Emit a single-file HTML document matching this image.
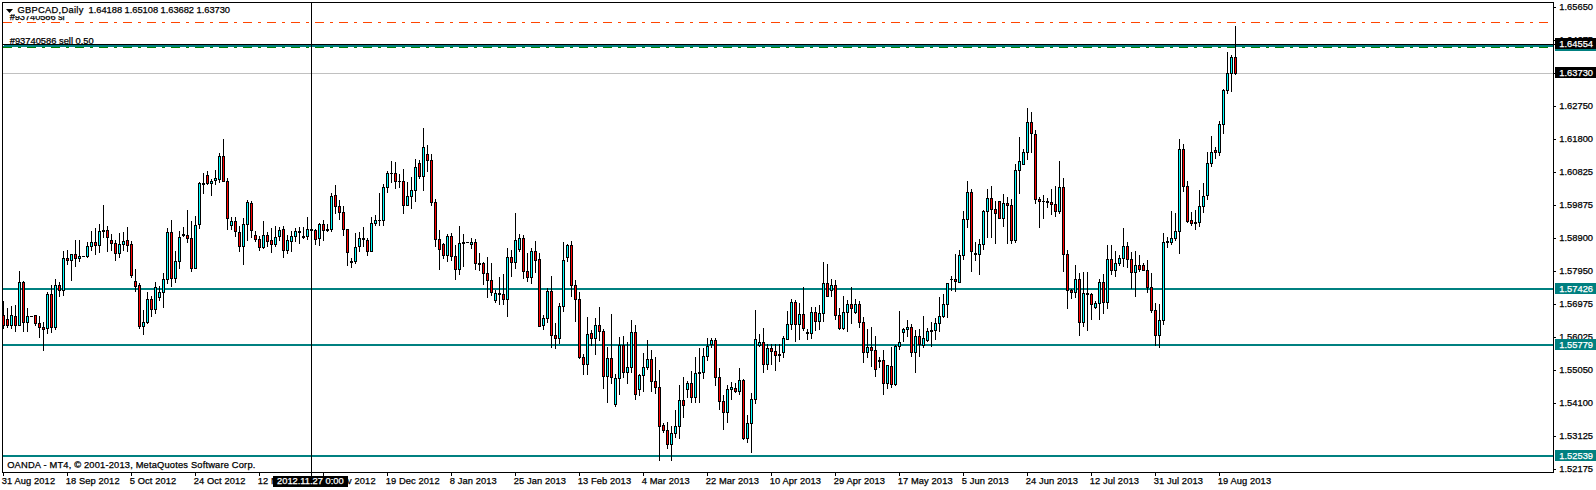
<!DOCTYPE html>
<html><head><meta charset="utf-8"><title>GBPCAD,Daily</title>
<style>
html,body{margin:0;padding:0;background:#fff;}
body{width:1596px;height:490px;position:relative;overflow:hidden;font-family:"Liberation Sans",sans-serif;font-size:9.33px;}
svg{position:absolute;left:0;top:0;}
.t{position:absolute;white-space:pre;line-height:12px;height:12px;-webkit-text-stroke:0.25px currentColor;}
</style></head><body>
<div class="t sell" style="left:9.70px;top:35.00px;color:#000;letter-spacing:0.000px;">#93740586 sell 0.50</div>
<svg width="1596" height="490" viewBox="0 0 1596 490" shape-rendering="crispEdges">
<rect x="3" y="73" width="1550" height="1" fill="#c0c0c0"/><rect x="3" y="45" width="1550" height="2" fill="#008080"/><rect x="3" y="288" width="1550" height="2" fill="#008080"/><rect x="3" y="344" width="1550" height="2" fill="#008080"/><rect x="3" y="455" width="1550" height="2" fill="#008080"/><rect x="3" y="44" width="1550" height="1" fill="#000"/><rect x="3" y="22" width="9" height="1" fill="#ff4500"/><rect x="18" y="22" width="3" height="1" fill="#ff4500"/><rect x="27" y="22" width="9" height="1" fill="#ff4500"/><rect x="42" y="22" width="3" height="1" fill="#ff4500"/><rect x="51" y="22" width="9" height="1" fill="#ff4500"/><rect x="66" y="22" width="3" height="1" fill="#ff4500"/><rect x="75" y="22" width="9" height="1" fill="#ff4500"/><rect x="90" y="22" width="3" height="1" fill="#ff4500"/><rect x="99" y="22" width="9" height="1" fill="#ff4500"/><rect x="114" y="22" width="3" height="1" fill="#ff4500"/><rect x="123" y="22" width="9" height="1" fill="#ff4500"/><rect x="138" y="22" width="3" height="1" fill="#ff4500"/><rect x="147" y="22" width="9" height="1" fill="#ff4500"/><rect x="162" y="22" width="3" height="1" fill="#ff4500"/><rect x="171" y="22" width="9" height="1" fill="#ff4500"/><rect x="186" y="22" width="3" height="1" fill="#ff4500"/><rect x="195" y="22" width="9" height="1" fill="#ff4500"/><rect x="210" y="22" width="3" height="1" fill="#ff4500"/><rect x="219" y="22" width="9" height="1" fill="#ff4500"/><rect x="234" y="22" width="3" height="1" fill="#ff4500"/><rect x="243" y="22" width="9" height="1" fill="#ff4500"/><rect x="258" y="22" width="3" height="1" fill="#ff4500"/><rect x="267" y="22" width="9" height="1" fill="#ff4500"/><rect x="282" y="22" width="3" height="1" fill="#ff4500"/><rect x="291" y="22" width="9" height="1" fill="#ff4500"/><rect x="306" y="22" width="3" height="1" fill="#ff4500"/><rect x="315" y="22" width="9" height="1" fill="#ff4500"/><rect x="330" y="22" width="3" height="1" fill="#ff4500"/><rect x="339" y="22" width="9" height="1" fill="#ff4500"/><rect x="354" y="22" width="3" height="1" fill="#ff4500"/><rect x="363" y="22" width="9" height="1" fill="#ff4500"/><rect x="378" y="22" width="3" height="1" fill="#ff4500"/><rect x="387" y="22" width="9" height="1" fill="#ff4500"/><rect x="402" y="22" width="3" height="1" fill="#ff4500"/><rect x="411" y="22" width="9" height="1" fill="#ff4500"/><rect x="426" y="22" width="3" height="1" fill="#ff4500"/><rect x="435" y="22" width="9" height="1" fill="#ff4500"/><rect x="450" y="22" width="3" height="1" fill="#ff4500"/><rect x="459" y="22" width="9" height="1" fill="#ff4500"/><rect x="474" y="22" width="3" height="1" fill="#ff4500"/><rect x="483" y="22" width="9" height="1" fill="#ff4500"/><rect x="498" y="22" width="3" height="1" fill="#ff4500"/><rect x="507" y="22" width="9" height="1" fill="#ff4500"/><rect x="522" y="22" width="3" height="1" fill="#ff4500"/><rect x="531" y="22" width="9" height="1" fill="#ff4500"/><rect x="546" y="22" width="3" height="1" fill="#ff4500"/><rect x="555" y="22" width="9" height="1" fill="#ff4500"/><rect x="570" y="22" width="3" height="1" fill="#ff4500"/><rect x="579" y="22" width="9" height="1" fill="#ff4500"/><rect x="594" y="22" width="3" height="1" fill="#ff4500"/><rect x="603" y="22" width="9" height="1" fill="#ff4500"/><rect x="618" y="22" width="3" height="1" fill="#ff4500"/><rect x="627" y="22" width="9" height="1" fill="#ff4500"/><rect x="642" y="22" width="3" height="1" fill="#ff4500"/><rect x="651" y="22" width="9" height="1" fill="#ff4500"/><rect x="666" y="22" width="3" height="1" fill="#ff4500"/><rect x="675" y="22" width="9" height="1" fill="#ff4500"/><rect x="690" y="22" width="3" height="1" fill="#ff4500"/><rect x="699" y="22" width="9" height="1" fill="#ff4500"/><rect x="714" y="22" width="3" height="1" fill="#ff4500"/><rect x="723" y="22" width="9" height="1" fill="#ff4500"/><rect x="738" y="22" width="3" height="1" fill="#ff4500"/><rect x="747" y="22" width="9" height="1" fill="#ff4500"/><rect x="762" y="22" width="3" height="1" fill="#ff4500"/><rect x="771" y="22" width="9" height="1" fill="#ff4500"/><rect x="786" y="22" width="3" height="1" fill="#ff4500"/><rect x="795" y="22" width="9" height="1" fill="#ff4500"/><rect x="810" y="22" width="3" height="1" fill="#ff4500"/><rect x="819" y="22" width="9" height="1" fill="#ff4500"/><rect x="834" y="22" width="3" height="1" fill="#ff4500"/><rect x="843" y="22" width="9" height="1" fill="#ff4500"/><rect x="858" y="22" width="3" height="1" fill="#ff4500"/><rect x="867" y="22" width="9" height="1" fill="#ff4500"/><rect x="882" y="22" width="3" height="1" fill="#ff4500"/><rect x="891" y="22" width="9" height="1" fill="#ff4500"/><rect x="906" y="22" width="3" height="1" fill="#ff4500"/><rect x="915" y="22" width="9" height="1" fill="#ff4500"/><rect x="930" y="22" width="3" height="1" fill="#ff4500"/><rect x="939" y="22" width="9" height="1" fill="#ff4500"/><rect x="954" y="22" width="3" height="1" fill="#ff4500"/><rect x="963" y="22" width="9" height="1" fill="#ff4500"/><rect x="978" y="22" width="3" height="1" fill="#ff4500"/><rect x="987" y="22" width="9" height="1" fill="#ff4500"/><rect x="1002" y="22" width="3" height="1" fill="#ff4500"/><rect x="1011" y="22" width="9" height="1" fill="#ff4500"/><rect x="1026" y="22" width="3" height="1" fill="#ff4500"/><rect x="1035" y="22" width="9" height="1" fill="#ff4500"/><rect x="1050" y="22" width="3" height="1" fill="#ff4500"/><rect x="1059" y="22" width="9" height="1" fill="#ff4500"/><rect x="1074" y="22" width="3" height="1" fill="#ff4500"/><rect x="1083" y="22" width="9" height="1" fill="#ff4500"/><rect x="1098" y="22" width="3" height="1" fill="#ff4500"/><rect x="1107" y="22" width="9" height="1" fill="#ff4500"/><rect x="1122" y="22" width="3" height="1" fill="#ff4500"/><rect x="1131" y="22" width="9" height="1" fill="#ff4500"/><rect x="1146" y="22" width="3" height="1" fill="#ff4500"/><rect x="1155" y="22" width="9" height="1" fill="#ff4500"/><rect x="1170" y="22" width="3" height="1" fill="#ff4500"/><rect x="1179" y="22" width="9" height="1" fill="#ff4500"/><rect x="1194" y="22" width="3" height="1" fill="#ff4500"/><rect x="1203" y="22" width="9" height="1" fill="#ff4500"/><rect x="1218" y="22" width="3" height="1" fill="#ff4500"/><rect x="1227" y="22" width="9" height="1" fill="#ff4500"/><rect x="1242" y="22" width="3" height="1" fill="#ff4500"/><rect x="1251" y="22" width="9" height="1" fill="#ff4500"/><rect x="1266" y="22" width="3" height="1" fill="#ff4500"/><rect x="1275" y="22" width="9" height="1" fill="#ff4500"/><rect x="1290" y="22" width="3" height="1" fill="#ff4500"/><rect x="1299" y="22" width="9" height="1" fill="#ff4500"/><rect x="1314" y="22" width="3" height="1" fill="#ff4500"/><rect x="1323" y="22" width="9" height="1" fill="#ff4500"/><rect x="1338" y="22" width="3" height="1" fill="#ff4500"/><rect x="1347" y="22" width="9" height="1" fill="#ff4500"/><rect x="1362" y="22" width="3" height="1" fill="#ff4500"/><rect x="1371" y="22" width="9" height="1" fill="#ff4500"/><rect x="1386" y="22" width="3" height="1" fill="#ff4500"/><rect x="1395" y="22" width="9" height="1" fill="#ff4500"/><rect x="1410" y="22" width="3" height="1" fill="#ff4500"/><rect x="1419" y="22" width="9" height="1" fill="#ff4500"/><rect x="1434" y="22" width="3" height="1" fill="#ff4500"/><rect x="1443" y="22" width="9" height="1" fill="#ff4500"/><rect x="1458" y="22" width="3" height="1" fill="#ff4500"/><rect x="1467" y="22" width="9" height="1" fill="#ff4500"/><rect x="1482" y="22" width="3" height="1" fill="#ff4500"/><rect x="1491" y="22" width="9" height="1" fill="#ff4500"/><rect x="1506" y="22" width="3" height="1" fill="#ff4500"/><rect x="1515" y="22" width="9" height="1" fill="#ff4500"/><rect x="1530" y="22" width="3" height="1" fill="#ff4500"/><rect x="1539" y="22" width="9" height="1" fill="#ff4500"/><rect x="3" y="47" width="9" height="1" fill="#008000"/><rect x="18" y="47" width="3" height="1" fill="#008000"/><rect x="27" y="47" width="9" height="1" fill="#008000"/><rect x="42" y="47" width="3" height="1" fill="#008000"/><rect x="51" y="47" width="9" height="1" fill="#008000"/><rect x="66" y="47" width="3" height="1" fill="#008000"/><rect x="75" y="47" width="9" height="1" fill="#008000"/><rect x="90" y="47" width="3" height="1" fill="#008000"/><rect x="99" y="47" width="9" height="1" fill="#008000"/><rect x="114" y="47" width="3" height="1" fill="#008000"/><rect x="123" y="47" width="9" height="1" fill="#008000"/><rect x="138" y="47" width="3" height="1" fill="#008000"/><rect x="147" y="47" width="9" height="1" fill="#008000"/><rect x="162" y="47" width="3" height="1" fill="#008000"/><rect x="171" y="47" width="9" height="1" fill="#008000"/><rect x="186" y="47" width="3" height="1" fill="#008000"/><rect x="195" y="47" width="9" height="1" fill="#008000"/><rect x="210" y="47" width="3" height="1" fill="#008000"/><rect x="219" y="47" width="9" height="1" fill="#008000"/><rect x="234" y="47" width="3" height="1" fill="#008000"/><rect x="243" y="47" width="9" height="1" fill="#008000"/><rect x="258" y="47" width="3" height="1" fill="#008000"/><rect x="267" y="47" width="9" height="1" fill="#008000"/><rect x="282" y="47" width="3" height="1" fill="#008000"/><rect x="291" y="47" width="9" height="1" fill="#008000"/><rect x="306" y="47" width="3" height="1" fill="#008000"/><rect x="315" y="47" width="9" height="1" fill="#008000"/><rect x="330" y="47" width="3" height="1" fill="#008000"/><rect x="339" y="47" width="9" height="1" fill="#008000"/><rect x="354" y="47" width="3" height="1" fill="#008000"/><rect x="363" y="47" width="9" height="1" fill="#008000"/><rect x="378" y="47" width="3" height="1" fill="#008000"/><rect x="387" y="47" width="9" height="1" fill="#008000"/><rect x="402" y="47" width="3" height="1" fill="#008000"/><rect x="411" y="47" width="9" height="1" fill="#008000"/><rect x="426" y="47" width="3" height="1" fill="#008000"/><rect x="435" y="47" width="9" height="1" fill="#008000"/><rect x="450" y="47" width="3" height="1" fill="#008000"/><rect x="459" y="47" width="9" height="1" fill="#008000"/><rect x="474" y="47" width="3" height="1" fill="#008000"/><rect x="483" y="47" width="9" height="1" fill="#008000"/><rect x="498" y="47" width="3" height="1" fill="#008000"/><rect x="507" y="47" width="9" height="1" fill="#008000"/><rect x="522" y="47" width="3" height="1" fill="#008000"/><rect x="531" y="47" width="9" height="1" fill="#008000"/><rect x="546" y="47" width="3" height="1" fill="#008000"/><rect x="555" y="47" width="9" height="1" fill="#008000"/><rect x="570" y="47" width="3" height="1" fill="#008000"/><rect x="579" y="47" width="9" height="1" fill="#008000"/><rect x="594" y="47" width="3" height="1" fill="#008000"/><rect x="603" y="47" width="9" height="1" fill="#008000"/><rect x="618" y="47" width="3" height="1" fill="#008000"/><rect x="627" y="47" width="9" height="1" fill="#008000"/><rect x="642" y="47" width="3" height="1" fill="#008000"/><rect x="651" y="47" width="9" height="1" fill="#008000"/><rect x="666" y="47" width="3" height="1" fill="#008000"/><rect x="675" y="47" width="9" height="1" fill="#008000"/><rect x="690" y="47" width="3" height="1" fill="#008000"/><rect x="699" y="47" width="9" height="1" fill="#008000"/><rect x="714" y="47" width="3" height="1" fill="#008000"/><rect x="723" y="47" width="9" height="1" fill="#008000"/><rect x="738" y="47" width="3" height="1" fill="#008000"/><rect x="747" y="47" width="9" height="1" fill="#008000"/><rect x="762" y="47" width="3" height="1" fill="#008000"/><rect x="771" y="47" width="9" height="1" fill="#008000"/><rect x="786" y="47" width="3" height="1" fill="#008000"/><rect x="795" y="47" width="9" height="1" fill="#008000"/><rect x="810" y="47" width="3" height="1" fill="#008000"/><rect x="819" y="47" width="9" height="1" fill="#008000"/><rect x="834" y="47" width="3" height="1" fill="#008000"/><rect x="843" y="47" width="9" height="1" fill="#008000"/><rect x="858" y="47" width="3" height="1" fill="#008000"/><rect x="867" y="47" width="9" height="1" fill="#008000"/><rect x="882" y="47" width="3" height="1" fill="#008000"/><rect x="891" y="47" width="9" height="1" fill="#008000"/><rect x="906" y="47" width="3" height="1" fill="#008000"/><rect x="915" y="47" width="9" height="1" fill="#008000"/><rect x="930" y="47" width="3" height="1" fill="#008000"/><rect x="939" y="47" width="9" height="1" fill="#008000"/><rect x="954" y="47" width="3" height="1" fill="#008000"/><rect x="963" y="47" width="9" height="1" fill="#008000"/><rect x="978" y="47" width="3" height="1" fill="#008000"/><rect x="987" y="47" width="9" height="1" fill="#008000"/><rect x="1002" y="47" width="3" height="1" fill="#008000"/><rect x="1011" y="47" width="9" height="1" fill="#008000"/><rect x="1026" y="47" width="3" height="1" fill="#008000"/><rect x="1035" y="47" width="9" height="1" fill="#008000"/><rect x="1050" y="47" width="3" height="1" fill="#008000"/><rect x="1059" y="47" width="9" height="1" fill="#008000"/><rect x="1074" y="47" width="3" height="1" fill="#008000"/><rect x="1083" y="47" width="9" height="1" fill="#008000"/><rect x="1098" y="47" width="3" height="1" fill="#008000"/><rect x="1107" y="47" width="9" height="1" fill="#008000"/><rect x="1122" y="47" width="3" height="1" fill="#008000"/><rect x="1131" y="47" width="9" height="1" fill="#008000"/><rect x="1146" y="47" width="3" height="1" fill="#008000"/><rect x="1155" y="47" width="9" height="1" fill="#008000"/><rect x="1170" y="47" width="3" height="1" fill="#008000"/><rect x="1179" y="47" width="9" height="1" fill="#008000"/><rect x="1194" y="47" width="3" height="1" fill="#008000"/><rect x="1203" y="47" width="9" height="1" fill="#008000"/><rect x="1218" y="47" width="3" height="1" fill="#008000"/><rect x="1227" y="47" width="9" height="1" fill="#008000"/><rect x="1242" y="47" width="3" height="1" fill="#008000"/><rect x="1251" y="47" width="9" height="1" fill="#008000"/><rect x="1266" y="47" width="3" height="1" fill="#008000"/><rect x="1275" y="47" width="9" height="1" fill="#008000"/><rect x="1290" y="47" width="3" height="1" fill="#008000"/><rect x="1299" y="47" width="9" height="1" fill="#008000"/><rect x="1314" y="47" width="3" height="1" fill="#008000"/><rect x="1323" y="47" width="9" height="1" fill="#008000"/><rect x="1338" y="47" width="3" height="1" fill="#008000"/><rect x="1347" y="47" width="9" height="1" fill="#008000"/><rect x="1362" y="47" width="3" height="1" fill="#008000"/><rect x="1371" y="47" width="9" height="1" fill="#008000"/><rect x="1386" y="47" width="3" height="1" fill="#008000"/><rect x="1395" y="47" width="9" height="1" fill="#008000"/><rect x="1410" y="47" width="3" height="1" fill="#008000"/><rect x="1419" y="47" width="9" height="1" fill="#008000"/><rect x="1434" y="47" width="3" height="1" fill="#008000"/><rect x="1443" y="47" width="9" height="1" fill="#008000"/><rect x="1458" y="47" width="3" height="1" fill="#008000"/><rect x="1467" y="47" width="9" height="1" fill="#008000"/><rect x="1482" y="47" width="3" height="1" fill="#008000"/><rect x="1491" y="47" width="9" height="1" fill="#008000"/><rect x="1506" y="47" width="3" height="1" fill="#008000"/><rect x="1515" y="47" width="9" height="1" fill="#008000"/><rect x="1530" y="47" width="3" height="1" fill="#008000"/><rect x="1539" y="47" width="9" height="1" fill="#008000"/><rect x="3" y="301" width="1" height="28" fill="#000"/><rect x="2" y="315" width="3" height="11" fill="#000"/><rect x="3" y="316" width="1" height="9" fill="#ff0000"/><rect x="7" y="308" width="1" height="20" fill="#000"/><rect x="6" y="319" width="3" height="7" fill="#000"/><rect x="7" y="320" width="1" height="5" fill="#ff0000"/><rect x="11" y="306" width="1" height="23" fill="#000"/><rect x="10" y="315" width="3" height="11" fill="#000"/><rect x="11" y="316" width="1" height="9" fill="#00ffff"/><rect x="15" y="305" width="1" height="27" fill="#000"/><rect x="14" y="316" width="3" height="10" fill="#000"/><rect x="15" y="317" width="1" height="8" fill="#ff0000"/><rect x="19" y="271" width="1" height="55" fill="#000"/><rect x="18" y="282" width="3" height="44" fill="#000"/><rect x="19" y="283" width="1" height="42" fill="#00ffff"/><rect x="23" y="281" width="1" height="51" fill="#000"/><rect x="22" y="282" width="3" height="41" fill="#000"/><rect x="23" y="283" width="1" height="39" fill="#ff0000"/><rect x="27" y="308" width="1" height="24" fill="#000"/><rect x="26" y="316" width="3" height="7" fill="#000"/><rect x="27" y="317" width="1" height="5" fill="#00ffff"/><rect x="31" y="316" width="1" height="1" fill="#000"/><rect x="30" y="316" width="3" height="1" fill="#000"/><rect x="35" y="315" width="1" height="11" fill="#000"/><rect x="34" y="315" width="3" height="9" fill="#000"/><rect x="35" y="316" width="1" height="7" fill="#ff0000"/><rect x="39" y="316" width="1" height="22" fill="#000"/><rect x="38" y="323" width="3" height="5" fill="#000"/><rect x="39" y="324" width="1" height="3" fill="#ff0000"/><rect x="43" y="322" width="1" height="29" fill="#000"/><rect x="42" y="327" width="3" height="3" fill="#000"/><rect x="43" y="328" width="1" height="1" fill="#ff0000"/><rect x="47" y="292" width="1" height="42" fill="#000"/><rect x="46" y="294" width="3" height="35" fill="#000"/><rect x="47" y="295" width="1" height="33" fill="#00ffff"/><rect x="51" y="285" width="1" height="48" fill="#000"/><rect x="50" y="294" width="3" height="34" fill="#000"/><rect x="51" y="295" width="1" height="32" fill="#ff0000"/><rect x="55" y="279" width="1" height="51" fill="#000"/><rect x="54" y="285" width="3" height="43" fill="#000"/><rect x="55" y="286" width="1" height="41" fill="#00ffff"/><rect x="59" y="282" width="1" height="15" fill="#000"/><rect x="58" y="285" width="3" height="6" fill="#000"/><rect x="59" y="286" width="1" height="4" fill="#ff0000"/><rect x="63" y="251" width="1" height="45" fill="#000"/><rect x="62" y="258" width="3" height="33" fill="#000"/><rect x="63" y="259" width="1" height="31" fill="#00ffff"/><rect x="67" y="250" width="1" height="15" fill="#000"/><rect x="66" y="258" width="3" height="3" fill="#000"/><rect x="67" y="259" width="1" height="1" fill="#ff0000"/><rect x="71" y="254" width="1" height="27" fill="#000"/><rect x="70" y="254" width="3" height="7" fill="#000"/><rect x="71" y="255" width="1" height="5" fill="#00ffff"/><rect x="75" y="240" width="1" height="27" fill="#000"/><rect x="74" y="254" width="3" height="5" fill="#000"/><rect x="75" y="255" width="1" height="3" fill="#ff0000"/><rect x="79" y="240" width="1" height="22" fill="#000"/><rect x="78" y="256" width="3" height="3" fill="#000"/><rect x="79" y="257" width="1" height="1" fill="#00ffff"/><rect x="83" y="256" width="1" height="1" fill="#000"/><rect x="82" y="256" width="3" height="1" fill="#000"/><rect x="87" y="242" width="1" height="16" fill="#000"/><rect x="86" y="246" width="3" height="11" fill="#000"/><rect x="87" y="247" width="1" height="9" fill="#00ffff"/><rect x="91" y="231" width="1" height="20" fill="#000"/><rect x="90" y="242" width="3" height="5" fill="#000"/><rect x="91" y="243" width="1" height="3" fill="#00ffff"/><rect x="95" y="228" width="1" height="27" fill="#000"/><rect x="94" y="242" width="3" height="4" fill="#000"/><rect x="95" y="243" width="1" height="2" fill="#ff0000"/><rect x="99" y="224" width="1" height="29" fill="#000"/><rect x="98" y="231" width="3" height="15" fill="#000"/><rect x="99" y="232" width="1" height="13" fill="#00ffff"/><rect x="103" y="205" width="1" height="33" fill="#000"/><rect x="102" y="230" width="3" height="2" fill="#000"/><rect x="107" y="226" width="1" height="26" fill="#000"/><rect x="106" y="230" width="3" height="8" fill="#000"/><rect x="107" y="231" width="1" height="6" fill="#ff0000"/><rect x="111" y="234" width="1" height="17" fill="#000"/><rect x="110" y="240" width="3" height="4" fill="#000"/><rect x="111" y="241" width="1" height="2" fill="#ff0000"/><rect x="115" y="240" width="1" height="21" fill="#000"/><rect x="114" y="243" width="3" height="11" fill="#000"/><rect x="115" y="244" width="1" height="9" fill="#ff0000"/><rect x="119" y="233" width="1" height="25" fill="#000"/><rect x="118" y="244" width="3" height="10" fill="#000"/><rect x="119" y="245" width="1" height="8" fill="#00ffff"/><rect x="123" y="232" width="1" height="19" fill="#000"/><rect x="122" y="241" width="3" height="4" fill="#000"/><rect x="123" y="242" width="1" height="2" fill="#00ffff"/><rect x="127" y="227" width="1" height="25" fill="#000"/><rect x="126" y="240" width="3" height="6" fill="#000"/><rect x="127" y="241" width="1" height="4" fill="#ff0000"/><rect x="131" y="241" width="1" height="37" fill="#000"/><rect x="130" y="244" width="3" height="32" fill="#000"/><rect x="131" y="245" width="1" height="30" fill="#ff0000"/><rect x="135" y="269" width="1" height="23" fill="#000"/><rect x="134" y="281" width="3" height="6" fill="#000"/><rect x="135" y="282" width="1" height="4" fill="#ff0000"/><rect x="139" y="283" width="1" height="46" fill="#000"/><rect x="138" y="285" width="3" height="42" fill="#000"/><rect x="139" y="286" width="1" height="40" fill="#ff0000"/><rect x="143" y="310" width="1" height="25" fill="#000"/><rect x="142" y="322" width="3" height="5" fill="#000"/><rect x="143" y="323" width="1" height="3" fill="#00ffff"/><rect x="147" y="292" width="1" height="32" fill="#000"/><rect x="146" y="299" width="3" height="24" fill="#000"/><rect x="147" y="300" width="1" height="22" fill="#00ffff"/><rect x="151" y="296" width="1" height="21" fill="#000"/><rect x="150" y="299" width="3" height="11" fill="#000"/><rect x="151" y="300" width="1" height="9" fill="#ff0000"/><rect x="155" y="282" width="1" height="32" fill="#000"/><rect x="154" y="287" width="3" height="23" fill="#000"/><rect x="155" y="288" width="1" height="21" fill="#00ffff"/><rect x="159" y="286" width="1" height="15" fill="#000"/><rect x="158" y="292" width="3" height="6" fill="#000"/><rect x="159" y="293" width="1" height="4" fill="#00ffff"/><rect x="163" y="273" width="1" height="35" fill="#000"/><rect x="162" y="279" width="3" height="14" fill="#000"/><rect x="163" y="280" width="1" height="12" fill="#00ffff"/><rect x="167" y="228" width="1" height="56" fill="#000"/><rect x="166" y="232" width="3" height="48" fill="#000"/><rect x="167" y="233" width="1" height="46" fill="#00ffff"/><rect x="171" y="220" width="1" height="67" fill="#000"/><rect x="170" y="232" width="3" height="47" fill="#000"/><rect x="171" y="233" width="1" height="45" fill="#ff0000"/><rect x="175" y="251" width="1" height="32" fill="#000"/><rect x="174" y="261" width="3" height="18" fill="#000"/><rect x="175" y="262" width="1" height="16" fill="#00ffff"/><rect x="179" y="231" width="1" height="38" fill="#000"/><rect x="178" y="237" width="3" height="25" fill="#000"/><rect x="179" y="238" width="1" height="23" fill="#00ffff"/><rect x="183" y="227" width="1" height="10" fill="#000"/><rect x="182" y="234" width="3" height="2" fill="#000"/><rect x="187" y="210" width="1" height="33" fill="#000"/><rect x="186" y="235" width="3" height="4" fill="#000"/><rect x="187" y="236" width="1" height="2" fill="#ff0000"/><rect x="191" y="221" width="1" height="51" fill="#000"/><rect x="190" y="238" width="3" height="31" fill="#000"/><rect x="191" y="239" width="1" height="29" fill="#ff0000"/><rect x="195" y="216" width="1" height="53" fill="#000"/><rect x="194" y="225" width="3" height="44" fill="#000"/><rect x="195" y="226" width="1" height="42" fill="#00ffff"/><rect x="199" y="182" width="1" height="47" fill="#000"/><rect x="198" y="183" width="3" height="42" fill="#000"/><rect x="199" y="184" width="1" height="40" fill="#00ffff"/><rect x="203" y="173" width="1" height="21" fill="#000"/><rect x="202" y="183" width="3" height="2" fill="#000"/><rect x="207" y="171" width="1" height="14" fill="#000"/><rect x="206" y="175" width="3" height="9" fill="#000"/><rect x="207" y="176" width="1" height="7" fill="#ff0000"/><rect x="211" y="179" width="1" height="17" fill="#000"/><rect x="210" y="181" width="3" height="3" fill="#000"/><rect x="211" y="182" width="1" height="1" fill="#00ffff"/><rect x="215" y="170" width="1" height="15" fill="#000"/><rect x="214" y="178" width="3" height="3" fill="#000"/><rect x="215" y="179" width="1" height="1" fill="#00ffff"/><rect x="219" y="153" width="1" height="30" fill="#000"/><rect x="218" y="156" width="3" height="24" fill="#000"/><rect x="219" y="157" width="1" height="22" fill="#00ffff"/><rect x="223" y="139" width="1" height="43" fill="#000"/><rect x="222" y="156" width="3" height="26" fill="#000"/><rect x="223" y="157" width="1" height="24" fill="#ff0000"/><rect x="227" y="178" width="1" height="52" fill="#000"/><rect x="226" y="181" width="3" height="38" fill="#000"/><rect x="227" y="182" width="1" height="36" fill="#ff0000"/><rect x="231" y="217" width="1" height="13" fill="#000"/><rect x="230" y="221" width="3" height="5" fill="#000"/><rect x="231" y="222" width="1" height="3" fill="#00ffff"/><rect x="235" y="217" width="1" height="20" fill="#000"/><rect x="234" y="221" width="3" height="11" fill="#000"/><rect x="235" y="222" width="1" height="9" fill="#ff0000"/><rect x="239" y="226" width="1" height="26" fill="#000"/><rect x="238" y="232" width="3" height="15" fill="#000"/><rect x="239" y="233" width="1" height="13" fill="#ff0000"/><rect x="243" y="218" width="1" height="47" fill="#000"/><rect x="242" y="224" width="3" height="23" fill="#000"/><rect x="243" y="225" width="1" height="21" fill="#00ffff"/><rect x="247" y="200" width="1" height="41" fill="#000"/><rect x="246" y="202" width="3" height="23" fill="#000"/><rect x="247" y="203" width="1" height="21" fill="#00ffff"/><rect x="251" y="201" width="1" height="37" fill="#000"/><rect x="250" y="203" width="3" height="28" fill="#000"/><rect x="251" y="204" width="1" height="26" fill="#ff0000"/><rect x="255" y="231" width="1" height="11" fill="#000"/><rect x="254" y="235" width="3" height="5" fill="#000"/><rect x="255" y="236" width="1" height="3" fill="#ff0000"/><rect x="259" y="236" width="1" height="15" fill="#000"/><rect x="258" y="239" width="3" height="9" fill="#000"/><rect x="259" y="240" width="1" height="7" fill="#ff0000"/><rect x="263" y="221" width="1" height="28" fill="#000"/><rect x="262" y="235" width="3" height="13" fill="#000"/><rect x="263" y="236" width="1" height="11" fill="#00ffff"/><rect x="267" y="232" width="1" height="15" fill="#000"/><rect x="266" y="235" width="3" height="7" fill="#000"/><rect x="267" y="236" width="1" height="5" fill="#ff0000"/><rect x="271" y="228" width="1" height="25" fill="#000"/><rect x="270" y="240" width="3" height="5" fill="#000"/><rect x="271" y="241" width="1" height="3" fill="#ff0000"/><rect x="275" y="226" width="1" height="21" fill="#000"/><rect x="274" y="237" width="3" height="8" fill="#000"/><rect x="275" y="238" width="1" height="6" fill="#00ffff"/><rect x="279" y="227" width="1" height="14" fill="#000"/><rect x="278" y="230" width="3" height="7" fill="#000"/><rect x="279" y="231" width="1" height="5" fill="#00ffff"/><rect x="283" y="226" width="1" height="32" fill="#000"/><rect x="282" y="229" width="3" height="22" fill="#000"/><rect x="283" y="230" width="1" height="20" fill="#ff0000"/><rect x="287" y="235" width="1" height="19" fill="#000"/><rect x="286" y="240" width="3" height="11" fill="#000"/><rect x="287" y="241" width="1" height="9" fill="#00ffff"/><rect x="291" y="231" width="1" height="21" fill="#000"/><rect x="290" y="236" width="3" height="6" fill="#000"/><rect x="291" y="237" width="1" height="4" fill="#00ffff"/><rect x="295" y="228" width="1" height="14" fill="#000"/><rect x="294" y="231" width="3" height="6" fill="#000"/><rect x="295" y="232" width="1" height="4" fill="#00ffff"/><rect x="299" y="227" width="1" height="17" fill="#000"/><rect x="298" y="231" width="3" height="2" fill="#000"/><rect x="303" y="227" width="1" height="12" fill="#000"/><rect x="302" y="236" width="3" height="2" fill="#000"/><rect x="307" y="217" width="1" height="23" fill="#000"/><rect x="306" y="229" width="3" height="8" fill="#000"/><rect x="307" y="230" width="1" height="6" fill="#00ffff"/><rect x="315" y="229" width="1" height="16" fill="#000"/><rect x="314" y="230" width="3" height="10" fill="#000"/><rect x="315" y="231" width="1" height="8" fill="#ff0000"/><rect x="319" y="223" width="1" height="23" fill="#000"/><rect x="318" y="224" width="3" height="15" fill="#000"/><rect x="319" y="225" width="1" height="13" fill="#00ffff"/><rect x="323" y="220" width="1" height="21" fill="#000"/><rect x="322" y="224" width="3" height="7" fill="#000"/><rect x="323" y="225" width="1" height="5" fill="#ff0000"/><rect x="327" y="224" width="1" height="8" fill="#000"/><rect x="326" y="229" width="3" height="2" fill="#000"/><rect x="331" y="193" width="1" height="39" fill="#000"/><rect x="330" y="196" width="3" height="34" fill="#000"/><rect x="331" y="197" width="1" height="32" fill="#00ffff"/><rect x="335" y="185" width="1" height="29" fill="#000"/><rect x="334" y="195" width="3" height="12" fill="#000"/><rect x="335" y="196" width="1" height="10" fill="#ff0000"/><rect x="339" y="200" width="1" height="20" fill="#000"/><rect x="338" y="206" width="3" height="7" fill="#000"/><rect x="339" y="207" width="1" height="5" fill="#ff0000"/><rect x="343" y="206" width="1" height="30" fill="#000"/><rect x="342" y="212" width="3" height="18" fill="#000"/><rect x="343" y="213" width="1" height="16" fill="#ff0000"/><rect x="347" y="229" width="1" height="37" fill="#000"/><rect x="346" y="229" width="3" height="24" fill="#000"/><rect x="347" y="230" width="1" height="22" fill="#ff0000"/><rect x="351" y="258" width="1" height="10" fill="#000"/><rect x="350" y="261" width="3" height="2" fill="#000"/><rect x="355" y="233" width="1" height="31" fill="#000"/><rect x="354" y="247" width="3" height="15" fill="#000"/><rect x="355" y="248" width="1" height="13" fill="#00ffff"/><rect x="359" y="232" width="1" height="20" fill="#000"/><rect x="358" y="238" width="3" height="9" fill="#000"/><rect x="359" y="239" width="1" height="7" fill="#00ffff"/><rect x="363" y="227" width="1" height="20" fill="#000"/><rect x="362" y="238" width="3" height="2" fill="#000"/><rect x="367" y="238" width="1" height="18" fill="#000"/><rect x="366" y="240" width="3" height="12" fill="#000"/><rect x="367" y="241" width="1" height="10" fill="#ff0000"/><rect x="371" y="217" width="1" height="35" fill="#000"/><rect x="370" y="223" width="3" height="29" fill="#000"/><rect x="371" y="224" width="1" height="27" fill="#00ffff"/><rect x="375" y="215" width="1" height="11" fill="#000"/><rect x="374" y="220" width="3" height="4" fill="#000"/><rect x="375" y="221" width="1" height="2" fill="#00ffff"/><rect x="379" y="193" width="1" height="33" fill="#000"/><rect x="378" y="220" width="3" height="1" fill="#000"/><rect x="383" y="184" width="1" height="42" fill="#000"/><rect x="382" y="187" width="3" height="34" fill="#000"/><rect x="383" y="188" width="1" height="32" fill="#00ffff"/><rect x="387" y="171" width="1" height="22" fill="#000"/><rect x="386" y="173" width="3" height="15" fill="#000"/><rect x="387" y="174" width="1" height="13" fill="#00ffff"/><rect x="391" y="161" width="1" height="22" fill="#000"/><rect x="390" y="173" width="3" height="1" fill="#000"/><rect x="395" y="162" width="1" height="27" fill="#000"/><rect x="394" y="173" width="3" height="9" fill="#000"/><rect x="395" y="174" width="1" height="7" fill="#ff0000"/><rect x="399" y="174" width="1" height="14" fill="#000"/><rect x="398" y="181" width="3" height="1" fill="#000"/><rect x="403" y="169" width="1" height="45" fill="#000"/><rect x="402" y="181" width="3" height="25" fill="#000"/><rect x="403" y="182" width="1" height="23" fill="#ff0000"/><rect x="407" y="182" width="1" height="24" fill="#000"/><rect x="406" y="196" width="3" height="10" fill="#000"/><rect x="407" y="197" width="1" height="8" fill="#00ffff"/><rect x="411" y="177" width="1" height="32" fill="#000"/><rect x="410" y="190" width="3" height="7" fill="#000"/><rect x="411" y="191" width="1" height="5" fill="#00ffff"/><rect x="415" y="159" width="1" height="43" fill="#000"/><rect x="414" y="167" width="3" height="24" fill="#000"/><rect x="415" y="168" width="1" height="22" fill="#00ffff"/><rect x="419" y="160" width="1" height="19" fill="#000"/><rect x="418" y="163" width="3" height="14" fill="#000"/><rect x="419" y="164" width="1" height="12" fill="#ff0000"/><rect x="423" y="128" width="1" height="63" fill="#000"/><rect x="422" y="147" width="3" height="30" fill="#000"/><rect x="423" y="148" width="1" height="28" fill="#00ffff"/><rect x="427" y="145" width="1" height="27" fill="#000"/><rect x="426" y="154" width="3" height="7" fill="#000"/><rect x="427" y="155" width="1" height="5" fill="#ff0000"/><rect x="431" y="154" width="1" height="52" fill="#000"/><rect x="430" y="160" width="3" height="43" fill="#000"/><rect x="431" y="161" width="1" height="41" fill="#ff0000"/><rect x="435" y="199" width="1" height="48" fill="#000"/><rect x="434" y="202" width="3" height="38" fill="#000"/><rect x="435" y="203" width="1" height="36" fill="#ff0000"/><rect x="439" y="230" width="1" height="40" fill="#000"/><rect x="438" y="239" width="3" height="11" fill="#000"/><rect x="439" y="240" width="1" height="9" fill="#ff0000"/><rect x="443" y="243" width="1" height="16" fill="#000"/><rect x="442" y="244" width="3" height="12" fill="#000"/><rect x="443" y="245" width="1" height="10" fill="#ff0000"/><rect x="447" y="234" width="1" height="28" fill="#000"/><rect x="446" y="236" width="3" height="20" fill="#000"/><rect x="447" y="237" width="1" height="18" fill="#00ffff"/><rect x="451" y="233" width="1" height="28" fill="#000"/><rect x="450" y="236" width="3" height="21" fill="#000"/><rect x="451" y="237" width="1" height="19" fill="#ff0000"/><rect x="455" y="245" width="1" height="35" fill="#000"/><rect x="454" y="256" width="3" height="14" fill="#000"/><rect x="455" y="257" width="1" height="12" fill="#ff0000"/><rect x="459" y="226" width="1" height="49" fill="#000"/><rect x="458" y="243" width="3" height="27" fill="#000"/><rect x="459" y="244" width="1" height="25" fill="#00ffff"/><rect x="463" y="234" width="1" height="33" fill="#000"/><rect x="462" y="242" width="3" height="2" fill="#000"/><rect x="467" y="242" width="1" height="1" fill="#000"/><rect x="466" y="242" width="3" height="1" fill="#000"/><rect x="471" y="238" width="1" height="11" fill="#000"/><rect x="470" y="242" width="3" height="3" fill="#000"/><rect x="471" y="243" width="1" height="1" fill="#00ffff"/><rect x="475" y="239" width="1" height="31" fill="#000"/><rect x="474" y="242" width="3" height="22" fill="#000"/><rect x="475" y="243" width="1" height="20" fill="#ff0000"/><rect x="479" y="253" width="1" height="18" fill="#000"/><rect x="478" y="263" width="3" height="2" fill="#000"/><rect x="483" y="262" width="1" height="23" fill="#000"/><rect x="482" y="263" width="3" height="11" fill="#000"/><rect x="483" y="264" width="1" height="9" fill="#ff0000"/><rect x="487" y="257" width="1" height="41" fill="#000"/><rect x="486" y="273" width="3" height="8" fill="#000"/><rect x="487" y="274" width="1" height="6" fill="#ff0000"/><rect x="491" y="263" width="1" height="33" fill="#000"/><rect x="490" y="280" width="3" height="13" fill="#000"/><rect x="491" y="281" width="1" height="11" fill="#ff0000"/><rect x="495" y="290" width="1" height="13" fill="#000"/><rect x="494" y="293" width="3" height="8" fill="#000"/><rect x="495" y="294" width="1" height="6" fill="#00ffff"/><rect x="499" y="277" width="1" height="28" fill="#000"/><rect x="498" y="293" width="3" height="2" fill="#000"/><rect x="503" y="274" width="1" height="31" fill="#000"/><rect x="502" y="294" width="3" height="6" fill="#000"/><rect x="503" y="295" width="1" height="4" fill="#ff0000"/><rect x="507" y="248" width="1" height="69" fill="#000"/><rect x="506" y="257" width="3" height="43" fill="#000"/><rect x="507" y="258" width="1" height="41" fill="#00ffff"/><rect x="511" y="250" width="1" height="27" fill="#000"/><rect x="510" y="257" width="3" height="6" fill="#000"/><rect x="511" y="258" width="1" height="4" fill="#ff0000"/><rect x="515" y="213" width="1" height="56" fill="#000"/><rect x="514" y="240" width="3" height="23" fill="#000"/><rect x="515" y="241" width="1" height="21" fill="#00ffff"/><rect x="519" y="234" width="1" height="18" fill="#000"/><rect x="518" y="238" width="3" height="12" fill="#000"/><rect x="519" y="239" width="1" height="10" fill="#00ffff"/><rect x="523" y="235" width="1" height="44" fill="#000"/><rect x="522" y="238" width="3" height="34" fill="#000"/><rect x="523" y="239" width="1" height="32" fill="#ff0000"/><rect x="527" y="253" width="1" height="29" fill="#000"/><rect x="526" y="271" width="3" height="7" fill="#000"/><rect x="527" y="272" width="1" height="5" fill="#ff0000"/><rect x="531" y="248" width="1" height="36" fill="#000"/><rect x="530" y="251" width="3" height="27" fill="#000"/><rect x="531" y="252" width="1" height="25" fill="#00ffff"/><rect x="535" y="241" width="1" height="32" fill="#000"/><rect x="534" y="251" width="3" height="10" fill="#000"/><rect x="535" y="252" width="1" height="8" fill="#ff0000"/><rect x="539" y="253" width="1" height="74" fill="#000"/><rect x="538" y="259" width="3" height="68" fill="#000"/><rect x="539" y="260" width="1" height="66" fill="#ff0000"/><rect x="543" y="315" width="1" height="15" fill="#000"/><rect x="542" y="318" width="3" height="8" fill="#000"/><rect x="543" y="319" width="1" height="6" fill="#00ffff"/><rect x="547" y="288" width="1" height="35" fill="#000"/><rect x="546" y="291" width="3" height="28" fill="#000"/><rect x="547" y="292" width="1" height="26" fill="#00ffff"/><rect x="551" y="276" width="1" height="72" fill="#000"/><rect x="550" y="291" width="3" height="45" fill="#000"/><rect x="551" y="292" width="1" height="43" fill="#ff0000"/><rect x="555" y="323" width="1" height="26" fill="#000"/><rect x="554" y="335" width="3" height="4" fill="#000"/><rect x="555" y="336" width="1" height="2" fill="#ff0000"/><rect x="559" y="303" width="1" height="41" fill="#000"/><rect x="558" y="306" width="3" height="33" fill="#000"/><rect x="559" y="307" width="1" height="31" fill="#00ffff"/><rect x="563" y="242" width="1" height="70" fill="#000"/><rect x="562" y="260" width="3" height="47" fill="#000"/><rect x="563" y="261" width="1" height="45" fill="#00ffff"/><rect x="567" y="244" width="1" height="18" fill="#000"/><rect x="566" y="245" width="3" height="13" fill="#000"/><rect x="567" y="246" width="1" height="11" fill="#00ffff"/><rect x="571" y="241" width="1" height="56" fill="#000"/><rect x="570" y="245" width="3" height="41" fill="#000"/><rect x="571" y="246" width="1" height="39" fill="#ff0000"/><rect x="575" y="280" width="1" height="42" fill="#000"/><rect x="574" y="285" width="3" height="15" fill="#000"/><rect x="575" y="286" width="1" height="13" fill="#ff0000"/><rect x="579" y="292" width="1" height="67" fill="#000"/><rect x="578" y="299" width="3" height="59" fill="#000"/><rect x="579" y="300" width="1" height="57" fill="#ff0000"/><rect x="583" y="354" width="1" height="21" fill="#000"/><rect x="582" y="357" width="3" height="8" fill="#000"/><rect x="583" y="358" width="1" height="6" fill="#ff0000"/><rect x="587" y="317" width="1" height="58" fill="#000"/><rect x="586" y="334" width="3" height="31" fill="#000"/><rect x="587" y="335" width="1" height="29" fill="#00ffff"/><rect x="591" y="330" width="1" height="16" fill="#000"/><rect x="590" y="333" width="3" height="6" fill="#000"/><rect x="591" y="334" width="1" height="4" fill="#ff0000"/><rect x="595" y="318" width="1" height="37" fill="#000"/><rect x="594" y="325" width="3" height="14" fill="#000"/><rect x="595" y="326" width="1" height="12" fill="#00ffff"/><rect x="599" y="307" width="1" height="34" fill="#000"/><rect x="598" y="325" width="3" height="7" fill="#000"/><rect x="599" y="326" width="1" height="5" fill="#ff0000"/><rect x="603" y="329" width="1" height="60" fill="#000"/><rect x="602" y="331" width="3" height="46" fill="#000"/><rect x="603" y="332" width="1" height="44" fill="#ff0000"/><rect x="607" y="347" width="1" height="56" fill="#000"/><rect x="606" y="358" width="3" height="19" fill="#000"/><rect x="607" y="359" width="1" height="17" fill="#00ffff"/><rect x="611" y="314" width="1" height="70" fill="#000"/><rect x="610" y="358" width="3" height="20" fill="#000"/><rect x="611" y="359" width="1" height="18" fill="#ff0000"/><rect x="615" y="374" width="1" height="33" fill="#000"/><rect x="614" y="378" width="3" height="27" fill="#000"/><rect x="615" y="379" width="1" height="25" fill="#00ffff"/><rect x="619" y="337" width="1" height="58" fill="#000"/><rect x="618" y="345" width="3" height="34" fill="#000"/><rect x="619" y="346" width="1" height="32" fill="#00ffff"/><rect x="623" y="336" width="1" height="42" fill="#000"/><rect x="622" y="345" width="3" height="28" fill="#000"/><rect x="623" y="346" width="1" height="26" fill="#ff0000"/><rect x="627" y="342" width="1" height="42" fill="#000"/><rect x="626" y="367" width="3" height="6" fill="#000"/><rect x="627" y="368" width="1" height="4" fill="#00ffff"/><rect x="631" y="320" width="1" height="53" fill="#000"/><rect x="630" y="332" width="3" height="36" fill="#000"/><rect x="631" y="333" width="1" height="34" fill="#00ffff"/><rect x="635" y="325" width="1" height="75" fill="#000"/><rect x="634" y="332" width="3" height="63" fill="#000"/><rect x="635" y="333" width="1" height="61" fill="#ff0000"/><rect x="639" y="374" width="1" height="22" fill="#000"/><rect x="638" y="375" width="3" height="15" fill="#000"/><rect x="639" y="376" width="1" height="13" fill="#00ffff"/><rect x="643" y="353" width="1" height="39" fill="#000"/><rect x="642" y="367" width="3" height="9" fill="#000"/><rect x="643" y="368" width="1" height="7" fill="#00ffff"/><rect x="647" y="340" width="1" height="30" fill="#000"/><rect x="646" y="359" width="3" height="9" fill="#000"/><rect x="647" y="360" width="1" height="7" fill="#00ffff"/><rect x="651" y="350" width="1" height="42" fill="#000"/><rect x="650" y="359" width="3" height="23" fill="#000"/><rect x="651" y="360" width="1" height="21" fill="#ff0000"/><rect x="655" y="357" width="1" height="37" fill="#000"/><rect x="654" y="381" width="3" height="7" fill="#000"/><rect x="655" y="382" width="1" height="5" fill="#ff0000"/><rect x="659" y="370" width="1" height="91" fill="#000"/><rect x="658" y="387" width="3" height="40" fill="#000"/><rect x="659" y="388" width="1" height="38" fill="#ff0000"/><rect x="663" y="423" width="1" height="10" fill="#000"/><rect x="662" y="425" width="3" height="6" fill="#000"/><rect x="663" y="426" width="1" height="4" fill="#ff0000"/><rect x="667" y="422" width="1" height="27" fill="#000"/><rect x="666" y="430" width="3" height="15" fill="#000"/><rect x="667" y="431" width="1" height="13" fill="#ff0000"/><rect x="671" y="426" width="1" height="35" fill="#000"/><rect x="670" y="433" width="3" height="12" fill="#000"/><rect x="671" y="434" width="1" height="10" fill="#00ffff"/><rect x="675" y="410" width="1" height="28" fill="#000"/><rect x="674" y="426" width="3" height="8" fill="#000"/><rect x="675" y="427" width="1" height="6" fill="#00ffff"/><rect x="679" y="385" width="1" height="54" fill="#000"/><rect x="678" y="400" width="3" height="27" fill="#000"/><rect x="679" y="401" width="1" height="25" fill="#00ffff"/><rect x="683" y="377" width="1" height="41" fill="#000"/><rect x="682" y="400" width="3" height="6" fill="#000"/><rect x="683" y="401" width="1" height="4" fill="#ff0000"/><rect x="687" y="381" width="1" height="17" fill="#000"/><rect x="686" y="383" width="3" height="7" fill="#000"/><rect x="687" y="384" width="1" height="5" fill="#00ffff"/><rect x="691" y="371" width="1" height="32" fill="#000"/><rect x="690" y="383" width="3" height="15" fill="#000"/><rect x="691" y="384" width="1" height="13" fill="#ff0000"/><rect x="695" y="357" width="1" height="46" fill="#000"/><rect x="694" y="373" width="3" height="25" fill="#000"/><rect x="695" y="374" width="1" height="23" fill="#00ffff"/><rect x="699" y="348" width="1" height="55" fill="#000"/><rect x="698" y="372" width="3" height="2" fill="#000"/><rect x="703" y="348" width="1" height="31" fill="#000"/><rect x="702" y="356" width="3" height="17" fill="#000"/><rect x="703" y="357" width="1" height="15" fill="#00ffff"/><rect x="707" y="338" width="1" height="23" fill="#000"/><rect x="706" y="346" width="3" height="11" fill="#000"/><rect x="707" y="347" width="1" height="9" fill="#00ffff"/><rect x="711" y="338" width="1" height="10" fill="#000"/><rect x="710" y="340" width="3" height="5" fill="#000"/><rect x="711" y="341" width="1" height="3" fill="#00ffff"/><rect x="715" y="338" width="1" height="48" fill="#000"/><rect x="714" y="340" width="3" height="38" fill="#000"/><rect x="715" y="341" width="1" height="36" fill="#ff0000"/><rect x="719" y="368" width="1" height="42" fill="#000"/><rect x="718" y="377" width="3" height="25" fill="#000"/><rect x="719" y="378" width="1" height="23" fill="#ff0000"/><rect x="723" y="395" width="1" height="35" fill="#000"/><rect x="722" y="401" width="3" height="12" fill="#000"/><rect x="723" y="402" width="1" height="10" fill="#ff0000"/><rect x="727" y="385" width="1" height="38" fill="#000"/><rect x="726" y="389" width="3" height="24" fill="#000"/><rect x="727" y="390" width="1" height="22" fill="#00ffff"/><rect x="731" y="382" width="1" height="18" fill="#000"/><rect x="730" y="387" width="3" height="3" fill="#000"/><rect x="731" y="388" width="1" height="1" fill="#00ffff"/><rect x="735" y="383" width="1" height="10" fill="#000"/><rect x="734" y="388" width="3" height="4" fill="#000"/><rect x="735" y="389" width="1" height="2" fill="#ff0000"/><rect x="739" y="368" width="1" height="27" fill="#000"/><rect x="738" y="380" width="3" height="12" fill="#000"/><rect x="739" y="381" width="1" height="10" fill="#00ffff"/><rect x="743" y="379" width="1" height="61" fill="#000"/><rect x="742" y="380" width="3" height="59" fill="#000"/><rect x="743" y="381" width="1" height="57" fill="#ff0000"/><rect x="747" y="415" width="1" height="28" fill="#000"/><rect x="746" y="423" width="3" height="16" fill="#000"/><rect x="747" y="424" width="1" height="14" fill="#00ffff"/><rect x="751" y="393" width="1" height="60" fill="#000"/><rect x="750" y="399" width="3" height="25" fill="#000"/><rect x="751" y="400" width="1" height="23" fill="#00ffff"/><rect x="755" y="310" width="1" height="94" fill="#000"/><rect x="754" y="339" width="3" height="61" fill="#000"/><rect x="755" y="340" width="1" height="59" fill="#00ffff"/><rect x="759" y="334" width="1" height="13" fill="#000"/><rect x="758" y="342" width="3" height="4" fill="#000"/><rect x="759" y="343" width="1" height="2" fill="#00ffff"/><rect x="763" y="328" width="1" height="45" fill="#000"/><rect x="762" y="342" width="3" height="23" fill="#000"/><rect x="763" y="343" width="1" height="21" fill="#ff0000"/><rect x="767" y="344" width="1" height="26" fill="#000"/><rect x="766" y="348" width="3" height="17" fill="#000"/><rect x="767" y="349" width="1" height="15" fill="#00ffff"/><rect x="771" y="344" width="1" height="21" fill="#000"/><rect x="770" y="348" width="3" height="4" fill="#000"/><rect x="771" y="349" width="1" height="2" fill="#ff0000"/><rect x="775" y="344" width="1" height="27" fill="#000"/><rect x="774" y="351" width="3" height="5" fill="#000"/><rect x="775" y="352" width="1" height="3" fill="#ff0000"/><rect x="779" y="344" width="1" height="18" fill="#000"/><rect x="778" y="354" width="3" height="2" fill="#000"/><rect x="783" y="336" width="1" height="22" fill="#000"/><rect x="782" y="338" width="3" height="15" fill="#000"/><rect x="783" y="339" width="1" height="13" fill="#00ffff"/><rect x="787" y="311" width="1" height="29" fill="#000"/><rect x="786" y="324" width="3" height="16" fill="#000"/><rect x="787" y="325" width="1" height="14" fill="#00ffff"/><rect x="791" y="299" width="1" height="31" fill="#000"/><rect x="790" y="302" width="3" height="23" fill="#000"/><rect x="791" y="303" width="1" height="21" fill="#00ffff"/><rect x="795" y="300" width="1" height="42" fill="#000"/><rect x="794" y="302" width="3" height="23" fill="#000"/><rect x="795" y="303" width="1" height="21" fill="#ff0000"/><rect x="799" y="303" width="1" height="37" fill="#000"/><rect x="798" y="314" width="3" height="11" fill="#000"/><rect x="799" y="315" width="1" height="9" fill="#00ffff"/><rect x="803" y="287" width="1" height="44" fill="#000"/><rect x="802" y="314" width="3" height="15" fill="#000"/><rect x="803" y="315" width="1" height="13" fill="#ff0000"/><rect x="807" y="329" width="1" height="11" fill="#000"/><rect x="806" y="332" width="3" height="2" fill="#000"/><rect x="811" y="307" width="1" height="32" fill="#000"/><rect x="810" y="312" width="3" height="22" fill="#000"/><rect x="811" y="313" width="1" height="20" fill="#00ffff"/><rect x="815" y="307" width="1" height="24" fill="#000"/><rect x="814" y="312" width="3" height="10" fill="#000"/><rect x="815" y="313" width="1" height="8" fill="#ff0000"/><rect x="819" y="305" width="1" height="25" fill="#000"/><rect x="818" y="313" width="3" height="9" fill="#000"/><rect x="819" y="314" width="1" height="7" fill="#00ffff"/><rect x="823" y="262" width="1" height="60" fill="#000"/><rect x="822" y="283" width="3" height="31" fill="#000"/><rect x="823" y="284" width="1" height="29" fill="#00ffff"/><rect x="827" y="264" width="1" height="33" fill="#000"/><rect x="826" y="283" width="3" height="14" fill="#000"/><rect x="827" y="284" width="1" height="12" fill="#ff0000"/><rect x="831" y="279" width="1" height="18" fill="#000"/><rect x="830" y="285" width="3" height="6" fill="#000"/><rect x="831" y="286" width="1" height="4" fill="#00ffff"/><rect x="835" y="280" width="1" height="40" fill="#000"/><rect x="834" y="285" width="3" height="31" fill="#000"/><rect x="835" y="286" width="1" height="29" fill="#ff0000"/><rect x="839" y="308" width="1" height="22" fill="#000"/><rect x="838" y="315" width="3" height="14" fill="#000"/><rect x="839" y="316" width="1" height="12" fill="#ff0000"/><rect x="843" y="296" width="1" height="34" fill="#000"/><rect x="842" y="312" width="3" height="17" fill="#000"/><rect x="843" y="313" width="1" height="15" fill="#00ffff"/><rect x="847" y="300" width="1" height="32" fill="#000"/><rect x="846" y="304" width="3" height="9" fill="#000"/><rect x="847" y="305" width="1" height="7" fill="#00ffff"/><rect x="851" y="287" width="1" height="37" fill="#000"/><rect x="850" y="304" width="3" height="5" fill="#000"/><rect x="851" y="305" width="1" height="3" fill="#ff0000"/><rect x="855" y="299" width="1" height="15" fill="#000"/><rect x="854" y="304" width="3" height="9" fill="#000"/><rect x="855" y="305" width="1" height="7" fill="#00ffff"/><rect x="859" y="301" width="1" height="27" fill="#000"/><rect x="858" y="304" width="3" height="19" fill="#000"/><rect x="859" y="305" width="1" height="17" fill="#ff0000"/><rect x="863" y="317" width="1" height="46" fill="#000"/><rect x="862" y="322" width="3" height="31" fill="#000"/><rect x="863" y="323" width="1" height="29" fill="#ff0000"/><rect x="867" y="329" width="1" height="29" fill="#000"/><rect x="866" y="347" width="3" height="6" fill="#000"/><rect x="867" y="348" width="1" height="4" fill="#00ffff"/><rect x="871" y="327" width="1" height="40" fill="#000"/><rect x="870" y="347" width="3" height="4" fill="#000"/><rect x="871" y="348" width="1" height="2" fill="#ff0000"/><rect x="875" y="336" width="1" height="41" fill="#000"/><rect x="874" y="350" width="3" height="20" fill="#000"/><rect x="875" y="351" width="1" height="18" fill="#ff0000"/><rect x="879" y="357" width="1" height="11" fill="#000"/><rect x="878" y="360" width="3" height="2" fill="#000"/><rect x="883" y="350" width="1" height="45" fill="#000"/><rect x="882" y="360" width="3" height="24" fill="#000"/><rect x="883" y="361" width="1" height="22" fill="#ff0000"/><rect x="887" y="365" width="1" height="24" fill="#000"/><rect x="886" y="365" width="3" height="19" fill="#000"/><rect x="887" y="366" width="1" height="17" fill="#00ffff"/><rect x="891" y="347" width="1" height="41" fill="#000"/><rect x="890" y="366" width="3" height="19" fill="#000"/><rect x="891" y="367" width="1" height="17" fill="#ff0000"/><rect x="895" y="345" width="1" height="41" fill="#000"/><rect x="894" y="346" width="3" height="39" fill="#000"/><rect x="895" y="347" width="1" height="37" fill="#00ffff"/><rect x="899" y="311" width="1" height="39" fill="#000"/><rect x="898" y="342" width="3" height="5" fill="#000"/><rect x="899" y="343" width="1" height="3" fill="#00ffff"/><rect x="903" y="328" width="1" height="14" fill="#000"/><rect x="902" y="329" width="3" height="4" fill="#000"/><rect x="903" y="330" width="1" height="2" fill="#00ffff"/><rect x="907" y="320" width="1" height="17" fill="#000"/><rect x="906" y="327" width="3" height="3" fill="#000"/><rect x="907" y="328" width="1" height="1" fill="#00ffff"/><rect x="911" y="324" width="1" height="33" fill="#000"/><rect x="910" y="327" width="3" height="26" fill="#000"/><rect x="911" y="328" width="1" height="24" fill="#ff0000"/><rect x="915" y="330" width="1" height="43" fill="#000"/><rect x="914" y="336" width="3" height="17" fill="#000"/><rect x="915" y="337" width="1" height="15" fill="#00ffff"/><rect x="919" y="329" width="1" height="28" fill="#000"/><rect x="918" y="336" width="3" height="9" fill="#000"/><rect x="919" y="337" width="1" height="7" fill="#ff0000"/><rect x="923" y="316" width="1" height="32" fill="#000"/><rect x="922" y="338" width="3" height="8" fill="#000"/><rect x="923" y="339" width="1" height="6" fill="#00ffff"/><rect x="927" y="328" width="1" height="14" fill="#000"/><rect x="926" y="331" width="3" height="10" fill="#000"/><rect x="927" y="332" width="1" height="8" fill="#00ffff"/><rect x="931" y="322" width="1" height="25" fill="#000"/><rect x="930" y="330" width="3" height="2" fill="#000"/><rect x="935" y="318" width="1" height="22" fill="#000"/><rect x="934" y="323" width="3" height="8" fill="#000"/><rect x="935" y="324" width="1" height="6" fill="#00ffff"/><rect x="939" y="297" width="1" height="35" fill="#000"/><rect x="938" y="316" width="3" height="8" fill="#000"/><rect x="939" y="317" width="1" height="6" fill="#00ffff"/><rect x="943" y="294" width="1" height="24" fill="#000"/><rect x="942" y="304" width="3" height="13" fill="#000"/><rect x="943" y="305" width="1" height="11" fill="#00ffff"/><rect x="947" y="283" width="1" height="35" fill="#000"/><rect x="946" y="283" width="3" height="22" fill="#000"/><rect x="947" y="284" width="1" height="20" fill="#00ffff"/><rect x="951" y="276" width="1" height="15" fill="#000"/><rect x="950" y="279" width="3" height="1" fill="#000"/><rect x="955" y="254" width="1" height="38" fill="#000"/><rect x="954" y="279" width="3" height="3" fill="#000"/><rect x="955" y="280" width="1" height="1" fill="#ff0000"/><rect x="959" y="250" width="1" height="33" fill="#000"/><rect x="958" y="255" width="3" height="28" fill="#000"/><rect x="959" y="256" width="1" height="26" fill="#00ffff"/><rect x="963" y="211" width="1" height="49" fill="#000"/><rect x="962" y="219" width="3" height="37" fill="#000"/><rect x="963" y="220" width="1" height="35" fill="#00ffff"/><rect x="967" y="181" width="1" height="47" fill="#000"/><rect x="966" y="192" width="3" height="28" fill="#000"/><rect x="967" y="193" width="1" height="26" fill="#00ffff"/><rect x="971" y="189" width="1" height="83" fill="#000"/><rect x="970" y="192" width="3" height="60" fill="#000"/><rect x="971" y="193" width="1" height="58" fill="#ff0000"/><rect x="975" y="242" width="1" height="19" fill="#000"/><rect x="974" y="253" width="3" height="2" fill="#000"/><rect x="979" y="239" width="1" height="36" fill="#000"/><rect x="978" y="244" width="3" height="11" fill="#000"/><rect x="979" y="245" width="1" height="9" fill="#00ffff"/><rect x="983" y="210" width="1" height="40" fill="#000"/><rect x="982" y="211" width="3" height="34" fill="#000"/><rect x="983" y="212" width="1" height="32" fill="#00ffff"/><rect x="987" y="189" width="1" height="49" fill="#000"/><rect x="986" y="198" width="3" height="14" fill="#000"/><rect x="987" y="199" width="1" height="12" fill="#00ffff"/><rect x="991" y="186" width="1" height="52" fill="#000"/><rect x="990" y="198" width="3" height="12" fill="#000"/><rect x="991" y="199" width="1" height="10" fill="#ff0000"/><rect x="995" y="201" width="1" height="43" fill="#000"/><rect x="994" y="209" width="3" height="5" fill="#000"/><rect x="995" y="210" width="1" height="3" fill="#ff0000"/><rect x="999" y="201" width="1" height="18" fill="#000"/><rect x="998" y="201" width="3" height="18" fill="#000"/><rect x="999" y="202" width="1" height="16" fill="#ff0000"/><rect x="1003" y="194" width="1" height="33" fill="#000"/><rect x="1002" y="203" width="3" height="16" fill="#000"/><rect x="1003" y="204" width="1" height="14" fill="#00ffff"/><rect x="1007" y="197" width="1" height="47" fill="#000"/><rect x="1006" y="203" width="3" height="3" fill="#000"/><rect x="1007" y="204" width="1" height="1" fill="#ff0000"/><rect x="1011" y="199" width="1" height="45" fill="#000"/><rect x="1010" y="205" width="3" height="36" fill="#000"/><rect x="1011" y="206" width="1" height="34" fill="#ff0000"/><rect x="1015" y="164" width="1" height="79" fill="#000"/><rect x="1014" y="170" width="3" height="71" fill="#000"/><rect x="1015" y="171" width="1" height="69" fill="#00ffff"/><rect x="1019" y="137" width="1" height="57" fill="#000"/><rect x="1018" y="161" width="3" height="10" fill="#000"/><rect x="1019" y="162" width="1" height="8" fill="#00ffff"/><rect x="1023" y="149" width="1" height="16" fill="#000"/><rect x="1022" y="152" width="3" height="13" fill="#000"/><rect x="1023" y="153" width="1" height="11" fill="#00ffff"/><rect x="1027" y="108" width="1" height="52" fill="#000"/><rect x="1026" y="122" width="3" height="31" fill="#000"/><rect x="1027" y="123" width="1" height="29" fill="#00ffff"/><rect x="1031" y="112" width="1" height="41" fill="#000"/><rect x="1030" y="122" width="3" height="12" fill="#000"/><rect x="1031" y="123" width="1" height="10" fill="#ff0000"/><rect x="1035" y="130" width="1" height="74" fill="#000"/><rect x="1034" y="134" width="3" height="66" fill="#000"/><rect x="1035" y="135" width="1" height="64" fill="#ff0000"/><rect x="1039" y="197" width="1" height="31" fill="#000"/><rect x="1038" y="199" width="3" height="3" fill="#000"/><rect x="1039" y="200" width="1" height="1" fill="#ff0000"/><rect x="1043" y="195" width="1" height="24" fill="#000"/><rect x="1042" y="201" width="3" height="1" fill="#000"/><rect x="1047" y="198" width="1" height="10" fill="#000"/><rect x="1046" y="201" width="3" height="2" fill="#000"/><rect x="1051" y="189" width="1" height="26" fill="#000"/><rect x="1050" y="202" width="3" height="3" fill="#000"/><rect x="1051" y="203" width="1" height="1" fill="#ff0000"/><rect x="1055" y="186" width="1" height="31" fill="#000"/><rect x="1054" y="204" width="3" height="8" fill="#000"/><rect x="1055" y="205" width="1" height="6" fill="#ff0000"/><rect x="1059" y="161" width="1" height="53" fill="#000"/><rect x="1058" y="187" width="3" height="25" fill="#000"/><rect x="1059" y="188" width="1" height="23" fill="#00ffff"/><rect x="1063" y="178" width="1" height="94" fill="#000"/><rect x="1062" y="187" width="3" height="68" fill="#000"/><rect x="1063" y="188" width="1" height="66" fill="#ff0000"/><rect x="1067" y="250" width="1" height="59" fill="#000"/><rect x="1066" y="254" width="3" height="37" fill="#000"/><rect x="1067" y="255" width="1" height="35" fill="#ff0000"/><rect x="1071" y="289" width="1" height="10" fill="#000"/><rect x="1070" y="290" width="3" height="3" fill="#000"/><rect x="1071" y="291" width="1" height="1" fill="#ff0000"/><rect x="1075" y="265" width="1" height="33" fill="#000"/><rect x="1074" y="279" width="3" height="14" fill="#000"/><rect x="1075" y="280" width="1" height="12" fill="#00ffff"/><rect x="1079" y="273" width="1" height="63" fill="#000"/><rect x="1078" y="279" width="3" height="44" fill="#000"/><rect x="1079" y="280" width="1" height="42" fill="#ff0000"/><rect x="1083" y="272" width="1" height="55" fill="#000"/><rect x="1082" y="293" width="3" height="30" fill="#000"/><rect x="1083" y="294" width="1" height="28" fill="#00ffff"/><rect x="1087" y="272" width="1" height="59" fill="#000"/><rect x="1086" y="293" width="3" height="2" fill="#000"/><rect x="1091" y="293" width="1" height="27" fill="#000"/><rect x="1090" y="294" width="3" height="11" fill="#000"/><rect x="1091" y="295" width="1" height="9" fill="#ff0000"/><rect x="1095" y="301" width="1" height="8" fill="#000"/><rect x="1094" y="303" width="3" height="5" fill="#000"/><rect x="1095" y="304" width="1" height="3" fill="#00ffff"/><rect x="1099" y="279" width="1" height="41" fill="#000"/><rect x="1098" y="282" width="3" height="22" fill="#000"/><rect x="1099" y="283" width="1" height="20" fill="#00ffff"/><rect x="1103" y="274" width="1" height="40" fill="#000"/><rect x="1102" y="282" width="3" height="21" fill="#000"/><rect x="1103" y="283" width="1" height="19" fill="#ff0000"/><rect x="1107" y="245" width="1" height="64" fill="#000"/><rect x="1106" y="259" width="3" height="44" fill="#000"/><rect x="1107" y="260" width="1" height="42" fill="#00ffff"/><rect x="1111" y="245" width="1" height="30" fill="#000"/><rect x="1110" y="259" width="3" height="12" fill="#000"/><rect x="1111" y="260" width="1" height="10" fill="#ff0000"/><rect x="1115" y="251" width="1" height="26" fill="#000"/><rect x="1114" y="263" width="3" height="8" fill="#000"/><rect x="1115" y="264" width="1" height="6" fill="#00ffff"/><rect x="1119" y="255" width="1" height="11" fill="#000"/><rect x="1118" y="258" width="3" height="6" fill="#000"/><rect x="1119" y="259" width="1" height="4" fill="#00ffff"/><rect x="1123" y="228" width="1" height="39" fill="#000"/><rect x="1122" y="246" width="3" height="13" fill="#000"/><rect x="1123" y="247" width="1" height="11" fill="#00ffff"/><rect x="1127" y="242" width="1" height="26" fill="#000"/><rect x="1126" y="246" width="3" height="14" fill="#000"/><rect x="1127" y="247" width="1" height="12" fill="#ff0000"/><rect x="1131" y="252" width="1" height="37" fill="#000"/><rect x="1130" y="259" width="3" height="14" fill="#000"/><rect x="1131" y="260" width="1" height="12" fill="#ff0000"/><rect x="1135" y="251" width="1" height="46" fill="#000"/><rect x="1134" y="265" width="3" height="8" fill="#000"/><rect x="1135" y="266" width="1" height="6" fill="#00ffff"/><rect x="1139" y="255" width="1" height="17" fill="#000"/><rect x="1138" y="265" width="3" height="5" fill="#000"/><rect x="1139" y="266" width="1" height="3" fill="#ff0000"/><rect x="1143" y="263" width="1" height="8" fill="#000"/><rect x="1142" y="265" width="3" height="6" fill="#000"/><rect x="1143" y="266" width="1" height="4" fill="#ff0000"/><rect x="1147" y="260" width="1" height="33" fill="#000"/><rect x="1146" y="270" width="3" height="18" fill="#000"/><rect x="1147" y="271" width="1" height="16" fill="#ff0000"/><rect x="1151" y="273" width="1" height="40" fill="#000"/><rect x="1150" y="287" width="3" height="24" fill="#000"/><rect x="1151" y="288" width="1" height="22" fill="#ff0000"/><rect x="1155" y="303" width="1" height="43" fill="#000"/><rect x="1154" y="310" width="3" height="26" fill="#000"/><rect x="1155" y="311" width="1" height="24" fill="#ff0000"/><rect x="1159" y="304" width="1" height="44" fill="#000"/><rect x="1158" y="320" width="3" height="16" fill="#000"/><rect x="1159" y="321" width="1" height="14" fill="#00ffff"/><rect x="1163" y="233" width="1" height="92" fill="#000"/><rect x="1162" y="242" width="3" height="79" fill="#000"/><rect x="1163" y="243" width="1" height="77" fill="#00ffff"/><rect x="1167" y="237" width="1" height="11" fill="#000"/><rect x="1166" y="241" width="3" height="2" fill="#000"/><rect x="1171" y="211" width="1" height="34" fill="#000"/><rect x="1170" y="238" width="3" height="5" fill="#000"/><rect x="1171" y="239" width="1" height="3" fill="#00ffff"/><rect x="1175" y="213" width="1" height="28" fill="#000"/><rect x="1174" y="231" width="3" height="8" fill="#000"/><rect x="1175" y="232" width="1" height="6" fill="#00ffff"/><rect x="1179" y="139" width="1" height="115" fill="#000"/><rect x="1178" y="149" width="3" height="83" fill="#000"/><rect x="1179" y="150" width="1" height="81" fill="#00ffff"/><rect x="1183" y="144" width="1" height="48" fill="#000"/><rect x="1182" y="149" width="3" height="38" fill="#000"/><rect x="1183" y="150" width="1" height="36" fill="#ff0000"/><rect x="1187" y="181" width="1" height="42" fill="#000"/><rect x="1186" y="186" width="3" height="36" fill="#000"/><rect x="1187" y="187" width="1" height="34" fill="#ff0000"/><rect x="1191" y="212" width="1" height="14" fill="#000"/><rect x="1190" y="220" width="3" height="4" fill="#000"/><rect x="1191" y="221" width="1" height="2" fill="#ff0000"/><rect x="1195" y="210" width="1" height="20" fill="#000"/><rect x="1194" y="222" width="3" height="2" fill="#000"/><rect x="1199" y="190" width="1" height="37" fill="#000"/><rect x="1198" y="206" width="3" height="17" fill="#000"/><rect x="1199" y="207" width="1" height="15" fill="#00ffff"/><rect x="1203" y="183" width="1" height="30" fill="#000"/><rect x="1202" y="196" width="3" height="11" fill="#000"/><rect x="1203" y="197" width="1" height="9" fill="#00ffff"/><rect x="1207" y="152" width="1" height="48" fill="#000"/><rect x="1206" y="163" width="3" height="33" fill="#000"/><rect x="1207" y="164" width="1" height="31" fill="#00ffff"/><rect x="1211" y="136" width="1" height="31" fill="#000"/><rect x="1210" y="152" width="3" height="12" fill="#000"/><rect x="1211" y="153" width="1" height="10" fill="#00ffff"/><rect x="1215" y="147" width="1" height="12" fill="#000"/><rect x="1214" y="150" width="3" height="3" fill="#000"/><rect x="1215" y="151" width="1" height="1" fill="#ff0000"/><rect x="1219" y="121" width="1" height="35" fill="#000"/><rect x="1218" y="124" width="3" height="29" fill="#000"/><rect x="1219" y="125" width="1" height="27" fill="#00ffff"/><rect x="1223" y="89" width="1" height="45" fill="#000"/><rect x="1222" y="90" width="3" height="35" fill="#000"/><rect x="1223" y="91" width="1" height="33" fill="#00ffff"/><rect x="1227" y="52" width="1" height="42" fill="#000"/><rect x="1226" y="73" width="3" height="18" fill="#000"/><rect x="1227" y="74" width="1" height="16" fill="#00ffff"/><rect x="1231" y="55" width="1" height="37" fill="#000"/><rect x="1230" y="57" width="3" height="17" fill="#000"/><rect x="1231" y="58" width="1" height="15" fill="#00ffff"/><rect x="1235" y="26" width="1" height="49" fill="#000"/><rect x="1234" y="57" width="3" height="17" fill="#000"/><rect x="1235" y="58" width="1" height="15" fill="#ff0000"/><rect x="310" y="229" width="3" height="2" fill="#000"/><rect x="3" y="45" width="1" height="1" fill="#fff"/><rect x="311" y="3" width="1" height="473" fill="#000"/><rect x="2" y="2" width="1552" height="1" fill="#000"/><rect x="2" y="2" width="1" height="471" fill="#000"/><rect x="1553" y="2" width="1" height="471" fill="#000"/><rect x="2" y="472" width="1552" height="1" fill="#000"/><rect x="3" y="473" width="1" height="3" fill="#000"/><rect x="67" y="473" width="1" height="3" fill="#000"/><rect x="131" y="473" width="1" height="3" fill="#000"/><rect x="195" y="473" width="1" height="3" fill="#000"/><rect x="259" y="473" width="1" height="3" fill="#000"/><rect x="323" y="473" width="1" height="3" fill="#000"/><rect x="387" y="473" width="1" height="3" fill="#000"/><rect x="451" y="473" width="1" height="3" fill="#000"/><rect x="515" y="473" width="1" height="3" fill="#000"/><rect x="579" y="473" width="1" height="3" fill="#000"/><rect x="643" y="473" width="1" height="3" fill="#000"/><rect x="707" y="473" width="1" height="3" fill="#000"/><rect x="771" y="473" width="1" height="3" fill="#000"/><rect x="835" y="473" width="1" height="3" fill="#000"/><rect x="899" y="473" width="1" height="3" fill="#000"/><rect x="963" y="473" width="1" height="3" fill="#000"/><rect x="1027" y="473" width="1" height="3" fill="#000"/><rect x="1091" y="473" width="1" height="3" fill="#000"/><rect x="1155" y="473" width="1" height="3" fill="#000"/><rect x="1219" y="473" width="1" height="3" fill="#000"/><rect x="1554" y="7" width="2" height="1" fill="#000"/><rect x="1554" y="40" width="2" height="1" fill="#000"/><rect x="1554" y="73" width="2" height="1" fill="#000"/><rect x="1554" y="106" width="2" height="1" fill="#000"/><rect x="1554" y="139" width="2" height="1" fill="#000"/><rect x="1554" y="172" width="2" height="1" fill="#000"/><rect x="1554" y="205" width="2" height="1" fill="#000"/><rect x="1554" y="238" width="2" height="1" fill="#000"/><rect x="1554" y="271" width="2" height="1" fill="#000"/><rect x="1554" y="304" width="2" height="1" fill="#000"/><rect x="1554" y="337" width="2" height="1" fill="#000"/><rect x="1554" y="370" width="2" height="1" fill="#000"/><rect x="1554" y="403" width="2" height="1" fill="#000"/><rect x="1554" y="436" width="2" height="1" fill="#000"/><rect x="1554" y="469" width="2" height="1" fill="#000"/><rect x="1555" y="40" width="41" height="11" fill="#008080"/><rect x="1555" y="38" width="41" height="11" fill="#000"/><rect x="1554" y="44" width="1" height="1" fill="#000"/><rect x="1555" y="67" width="41" height="11" fill="#000"/><rect x="1554" y="73" width="1" height="1" fill="#000"/><rect x="1555" y="283" width="41" height="11" fill="#008080"/><rect x="1555" y="339" width="41" height="11" fill="#008080"/><rect x="1555" y="450" width="41" height="11" fill="#008080"/><rect x="273" y="476" width="75" height="11" fill="#000"/><path d="M6 9h7l-3.5 4z" fill="#000" shape-rendering="auto"/>
</svg>
<div class="t sl" style="left:9.70px;top:11.00px;color:#000;letter-spacing:-0.100px;">#93740586 sl</div><div style="position:absolute;left:15px;top:3px;width:218px;height:13px;background:#fff"></div><div class="t title" style="left:17.50px;top:4.00px;color:#000;letter-spacing:0.280px;">GBPCAD,Daily</div><div class="t nums" style="left:88.60px;top:4.00px;color:#000;letter-spacing:-0.040px;">1.64188 1.65108 1.63682 1.63730</div><div class="t copy" style="left:7.20px;top:459.00px;color:#000;letter-spacing:0.170px;">OANDA - MT4, © 2001-2013, MetaQuotes Software Corp.</div><div class="t date" style="left:1.70px;top:475.00px;color:#000;letter-spacing:0.100px;">31 Aug 2012</div><div class="t date" style="left:65.70px;top:475.00px;color:#000;letter-spacing:0.100px;">18 Sep 2012</div><div class="t date" style="left:129.70px;top:475.00px;color:#000;letter-spacing:0.100px;">5 Oct 2012</div><div class="t date" style="left:193.70px;top:475.00px;color:#000;letter-spacing:0.100px;">24 Oct 2012</div><div class="t date" style="left:257.70px;top:475.00px;color:#000;letter-spacing:0.100px;">12 Nov 2012</div><div class="t date" style="left:321.70px;top:475.00px;color:#000;letter-spacing:0.100px;">30 Nov 2012</div><div class="t date" style="left:385.70px;top:475.00px;color:#000;letter-spacing:0.100px;">19 Dec 2012</div><div class="t date" style="left:449.70px;top:475.00px;color:#000;letter-spacing:0.100px;">8 Jan 2013</div><div class="t date" style="left:513.70px;top:475.00px;color:#000;letter-spacing:0.100px;">25 Jan 2013</div><div class="t date" style="left:577.70px;top:475.00px;color:#000;letter-spacing:0.100px;">13 Feb 2013</div><div class="t date" style="left:641.70px;top:475.00px;color:#000;letter-spacing:0.100px;">4 Mar 2013</div><div class="t date" style="left:705.70px;top:475.00px;color:#000;letter-spacing:0.100px;">22 Mar 2013</div><div class="t date" style="left:769.70px;top:475.00px;color:#000;letter-spacing:0.100px;">10 Apr 2013</div><div class="t date" style="left:833.70px;top:475.00px;color:#000;letter-spacing:0.100px;">29 Apr 2013</div><div class="t date" style="left:897.70px;top:475.00px;color:#000;letter-spacing:0.100px;">17 May 2013</div><div class="t date" style="left:961.70px;top:475.00px;color:#000;letter-spacing:0.100px;">5 Jun 2013</div><div class="t date" style="left:1025.70px;top:475.00px;color:#000;letter-spacing:0.100px;">24 Jun 2013</div><div class="t date" style="left:1089.70px;top:475.00px;color:#000;letter-spacing:0.100px;">12 Jul 2013</div><div class="t date" style="left:1153.70px;top:475.00px;color:#000;letter-spacing:0.100px;">31 Jul 2013</div><div class="t date" style="left:1217.70px;top:475.00px;color:#000;letter-spacing:0.100px;">19 Aug 2013</div><div class="t price" style="left:1559.30px;top:1.00px;color:#000;letter-spacing:0.000px;">1.65650</div><div class="t price" style="left:1559.30px;top:34.00px;color:#000;letter-spacing:0.000px;">1.64675</div><div class="t price" style="left:1559.30px;top:67.00px;color:#000;letter-spacing:0.000px;">1.63700</div><div class="t price" style="left:1559.30px;top:100.00px;color:#000;letter-spacing:0.000px;">1.62750</div><div class="t price" style="left:1559.30px;top:133.00px;color:#000;letter-spacing:0.000px;">1.61800</div><div class="t price" style="left:1559.30px;top:166.00px;color:#000;letter-spacing:0.000px;">1.60825</div><div class="t price" style="left:1559.30px;top:199.00px;color:#000;letter-spacing:0.000px;">1.59875</div><div class="t price" style="left:1559.30px;top:232.00px;color:#000;letter-spacing:0.000px;">1.58900</div><div class="t price" style="left:1559.30px;top:265.00px;color:#000;letter-spacing:0.000px;">1.57950</div><div class="t price" style="left:1559.30px;top:298.00px;color:#000;letter-spacing:0.000px;">1.56975</div><div class="t price" style="left:1559.30px;top:331.00px;color:#000;letter-spacing:0.000px;">1.56025</div><div class="t price" style="left:1559.30px;top:364.00px;color:#000;letter-spacing:0.000px;">1.55050</div><div class="t price" style="left:1559.30px;top:397.00px;color:#000;letter-spacing:0.000px;">1.54100</div><div class="t price" style="left:1559.30px;top:430.00px;color:#000;letter-spacing:0.000px;">1.53125</div><div class="t price" style="left:1559.30px;top:463.00px;color:#000;letter-spacing:0.000px;">1.52175</div><div style="position:absolute;left:1555px;top:40px;width:41px;height:11px;background:#008080"></div><div style="position:absolute;left:1555px;top:38px;width:41px;height:11px;background:#000"></div><div class="t price" style="left:1559.30px;top:38.00px;color:#fff;letter-spacing:0.000px;">1.64554</div><div style="position:absolute;left:1555px;top:67px;width:41px;height:11px;background:#000"></div><div class="t price" style="left:1559.30px;top:67.00px;color:#fff;letter-spacing:0.000px;">1.63730</div><div style="position:absolute;left:1555px;top:283px;width:41px;height:11px;background:#008080"></div><div class="t price" style="left:1559.30px;top:283.00px;color:#fff;letter-spacing:0.000px;">1.57426</div><div style="position:absolute;left:1555px;top:339px;width:41px;height:11px;background:#008080"></div><div class="t price" style="left:1559.30px;top:339.00px;color:#fff;letter-spacing:0.000px;">1.55779</div><div style="position:absolute;left:1555px;top:450px;width:41px;height:11px;background:#008080"></div><div class="t price" style="left:1559.30px;top:450.00px;color:#fff;letter-spacing:0.000px;">1.52539</div><div style="position:absolute;left:273px;top:476px;width:75px;height:11px;background:#000"></div><div class="t cross" style="left:277.00px;top:475.00px;color:#fff;letter-spacing:0.000px;">2012.11.27 0:00</div>
</body></html>
